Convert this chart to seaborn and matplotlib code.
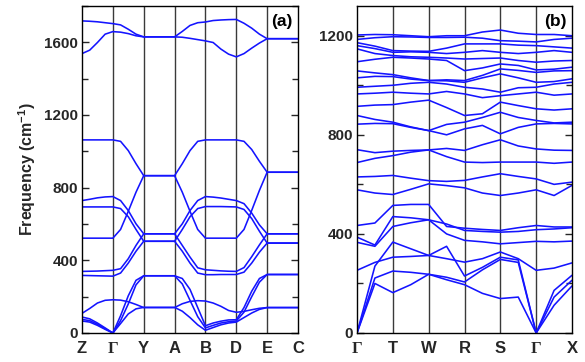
import numpy as np
import pandas as pd
import matplotlib
matplotlib.use('Agg')
import matplotlib.pyplot as plt
import seaborn as sns
from matplotlib.ticker import MultipleLocator

sns.set_theme(style='ticks')
plt.rcParams['font.family'] = ['Liberation Sans', 'DejaVu Sans']
plt.rcParams['font.weight'] = 'bold'
plt.rcParams['mathtext.fontset'] = 'custom'
plt.rcParams['mathtext.rm'] = 'Liberation Sans:bold'
plt.rcParams['mathtext.default'] = 'rm'

# ---------------- data ----------------
labels_a = ['Z', 'Γ', 'Y', 'A', 'B', 'D', 'E', 'C']
labels_b = ['Γ', 'T', 'W', 'R', 'S', 'Γ', 'X']

# panel (a): values at quarter points along each path segment
bands_a = [
    [1718, 1716, 1713, 1708, 1703, 1696, 1672, 1645, 1630, 1630, 1630, 1630, 1630,
     1660, 1693, 1708, 1712, 1720, 1723, 1725, 1726, 1705, 1678, 1645, 1620, 1620, 1620, 1620, 1620],
    [1538, 1557, 1599, 1645, 1659, 1656, 1648, 1636, 1630, 1630, 1630, 1630, 1630,
     1628, 1622, 1615, 1608, 1599, 1563, 1535, 1520, 1538, 1568, 1596, 1620, 1620, 1620, 1620, 1620],
    [1063, 1063, 1063, 1063, 1063, 1055, 1004, 932, 866, 866, 866, 866, 866,
     932, 1004, 1055, 1063, 1063, 1063, 1063, 1063, 1055, 1010, 945, 885, 885, 885, 885, 885],
    [522, 522, 522, 522, 522, 570, 670, 775, 866, 866, 866, 866, 866,
     775, 670, 570, 522, 522, 522, 522, 522, 570, 675, 785, 885, 885, 885, 885, 885],
    [729, 736, 744, 749, 751, 729, 674, 601, 546, 546, 546, 546, 546,
     601, 674, 729, 751, 748, 743, 736, 729, 712, 660, 595, 546, 546, 546, 546, 546],
    [694, 694, 694, 694, 694, 685, 640, 570, 505, 505, 505, 505, 505,
     570, 640, 685, 696, 696, 696, 695, 694, 680, 630, 560, 495, 495, 495, 495, 495],
    [339, 340, 341, 343, 345, 354, 409, 482, 546, 546, 546, 546, 546,
     482, 418, 359, 348, 345, 342, 340, 339, 360, 420, 485, 546, 546, 546, 546, 546],
    [317, 316, 315, 314, 313, 330, 385, 450, 505, 505, 505, 505, 505,
     450, 385, 330, 321, 321, 322, 322, 322, 335, 385, 445, 495, 495, 495, 495, 495],
    [108, 135, 165, 180, 183, 181, 172, 157, 140, 140, 140, 140, 140,
     161, 174, 178, 176, 165, 147, 124, 114, 119, 128, 136, 140, 140, 140, 140, 140],
    [88, 78, 55, 28, 0, 95, 205, 290, 315, 315, 315, 315, 315,
     300, 240, 140, 40, 55, 65, 72, 73, 140, 230, 300, 322, 322, 322, 322, 322],
    [75, 68, 48, 24, 0, 68, 160, 265, 315, 315, 315, 315, 315,
     270, 180, 90, 28, 42, 55, 62, 66, 115, 200, 280, 322, 322, 322, 322, 322],
    [66, 60, 42, 20, 0, 52, 105, 133, 141, 141, 141, 141, 141,
     120, 85, 45, 15, 30, 45, 55, 60, 85, 110, 130, 140, 140, 140, 140, 140],
]

# panel (b): values at high-symmetry points and segment midpoints
bands_b = [
    [0, 200, 163, 195, 237, 215, 195, 160, 139, 145, 0, 112, 190],
    [0, 222, 250, 245, 237, 225, 206, 255, 297, 285, 0, 145, 213],
    [0, 270, 367, 340, 313, 350, 230, 265, 306, 295, 0, 172, 233],
    [253, 285, 306, 309, 313, 300, 286, 300, 327, 300, 253, 262, 283],
    [366, 350, 430, 445, 457, 400, 374, 368, 360, 365, 370, 368, 371],
    [387, 355, 470, 465, 457, 440, 414, 410, 407, 410, 417, 420, 425],
    [434, 444, 515, 519, 519, 430, 423, 418, 414, 425, 434, 428, 428],
    [578, 565, 559, 580, 602, 595, 586, 565, 555, 565, 578, 555, 596],
    [630, 632, 636, 625, 615, 612, 616, 630, 643, 632, 622, 600, 609],
    [688, 705, 716, 730, 739, 712, 690, 688, 690, 690, 690, 685, 690],
    [740, 728, 734, 737, 739, 745, 737, 760, 780, 755, 743, 738, 737],
    [843, 846, 845, 830, 817, 800, 824, 838, 804, 830, 844, 846, 844],
    [878, 862, 851, 832, 817, 842, 851, 870, 891, 870, 858, 848, 851],
    [915, 920, 922, 932, 940, 910, 878, 885, 932, 918, 905, 900, 905],
    [965, 968, 972, 968, 965, 975, 965, 950, 958, 965, 972, 960, 965],
    [992, 996, 1000, 1008, 1012, 1005, 992, 985, 972, 990, 992, 1005, 1012],
    [1030, 1036, 1035, 1025, 1019, 1018, 1012, 1030, 1046, 1030, 1012, 1015, 1026],
    [1058, 1050, 1043, 1030, 1019, 1022, 1019, 1040, 1066, 1060, 1052, 1058, 1059],
    [1095, 1105, 1113, 1110, 1106, 1100, 1059, 1070, 1086, 1080, 1062, 1065, 1073],
    [1147, 1128, 1120, 1115, 1113, 1110, 1106, 1108, 1110, 1100, 1093, 1098, 1100],
    [1160, 1148, 1133, 1135, 1133, 1128, 1133, 1140, 1133, 1128, 1133, 1140, 1133],
    [1172, 1158, 1140, 1138, 1137, 1150, 1167, 1167, 1167, 1162, 1160, 1155, 1150],
    [1185, 1192, 1196, 1195, 1193, 1193, 1194, 1190, 1180, 1178, 1175, 1185, 1190],
    [1203, 1205, 1204, 1200, 1196, 1200, 1200, 1215, 1223, 1210, 1205, 1205, 1200],
]


def to_df(bands, per_seg):
    rows = []
    for i, b in enumerate(bands):
        for j, f in enumerate(b):
            rows.append((i, j / per_seg, f))
    return pd.DataFrame(rows, columns=['band', 'k', 'freq'])


dfa = to_df(bands_a, 4)
dfb = to_df(bands_b, 2)

W, H = 585, 362
fig = plt.figure(figsize=(W / 100, H / 100), dpi=100)
axa = fig.add_axes([82 / W, 1 - 333 / H, 216 / W, 327 / H])
axb = fig.add_axes([357 / W, 1 - 333 / H, 215 / W, 327 / H])

line_col = '#1414ff'
for ax, df, labels, ymax, tag in [(axa, dfa, labels_a, 1800, '(a)'),
                                  (axb, dfb, labels_b, 1320, '(b)')]:
    sns.lineplot(data=df, x='k', y='freq', units='band', estimator=None, sort=False,
                 color=line_col, lw=1.15, ax=ax, legend=False)
    n = len(labels) - 1
    for k in range(1, n):
        ax.axvline(k, color='#3a3a3a', lw=1.0, zorder=1)
    ax.set_xlim(0, n)
    ax.set_ylim(0, ymax)
    ax.set_xticks(range(n + 1))
    ax.set_xticklabels(labels)
    for t in ax.get_xticklabels():
        if t.get_text() == 'Γ':
            t.set_fontfamily(['Liberation Serif', 'DejaVu Serif'])
        t.set_fontsize(12)
        t.set_fontweight('bold')
    ax.yaxis.set_major_locator(MultipleLocator(400))
    ax.yaxis.set_minor_locator(MultipleLocator(200))
    ax.tick_params(axis='x', length=0, pad=6)
    ax.tick_params(axis='y', which='both', direction='in', left=True, right=True,
                   labelsize=11, pad=3)
    ax.tick_params(axis='y', which='major', length=5, width=1)
    ax.tick_params(axis='y', which='minor', length=4, width=1)
    for lab in ax.get_yticklabels():
        lab.set_fontweight('bold')
    for s in ax.spines.values():
        s.set_color('black')
        s.set_linewidth(1.0)
        s.set_visible(True)
    ax.set_xlabel('')
    ax.set_ylabel('')
    ax.text(0.975, 0.975, tag, transform=ax.transAxes, ha='right', va='top',
            fontsize=12.5, fontweight='bold', color='black')

axa.set_ylabel('Frequency (cm$^{-1}$)', fontsize=11.5, fontweight='bold', labelpad=4)

fig.savefig('out.png', dpi=100)
